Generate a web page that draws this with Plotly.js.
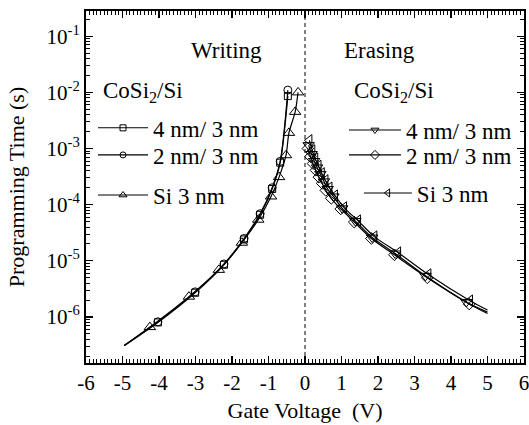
<!DOCTYPE html>
<html>
<head>
<meta charset="utf-8">
<script src="https://cdn.plot.ly/plotly-3.0.1.min.js"></script>
<style>html,body{margin:0;padding:0;background:#fff;}#chart{width:529px;height:425px;}</style>
</head>
<body>
<div id="chart"></div>
<script>
// ---- Writing (negative gate voltage) ----
const wCo4X = [-4.03, -3.01, -2.22, -1.67, -1.23, -0.90, -0.68, -0.47];
const wCo4Y = [8.0e-7, 2.7e-6, 8.5e-6, 2.4e-5, 6.6e-5, 1.9e-4, 5.6e-4, 8.6e-3];
const wCo2X = [-4.03, -3.01, -2.22, -1.67, -1.23, -0.90, -0.68, -0.47];
const wCo2Y = [8.2e-7, 2.8e-6, 8.8e-6, 2.5e-5, 6.9e-5, 2.0e-4, 5.9e-4, 1.1e-2];
const wSiX  = [-4.25, -3.18, -2.36, -1.73, -1.28, -0.93, -0.71, -0.52, -0.44, -0.27, -0.19];
const wSiY  = [6.6e-7, 2.3e-6, 6.9e-6, 2.1e-5, 5.4e-5, 1.4e-4, 3.1e-4, 7.6e-4, 1.9e-3, 4.5e-3, 1.0e-2];
// start of the fitted writing curves
const wLineStartX = -4.95;
const wLineStartY = 3.1e-7;

// ---- Erasing (positive gate voltage) ----
const eCo4X = [0.10, 0.18, 0.25, 0.33, 0.42, 0.52, 0.62, 0.78, 1.02, 1.38, 1.84, 2.47, 3.30, 4.42];
const eCo4Y = [1.15e-3, 8.0e-4, 6.0e-4, 4.6e-4, 3.5e-4, 2.6e-4, 1.9e-4, 1.4e-4, 8.6e-5, 5.1e-5, 2.6e-5, 1.35e-5, 5.4e-6, 1.85e-6];
const eCo2X = [0.08, 0.15, 0.22, 0.30, 0.38, 0.47, 0.57, 0.72, 0.98, 1.35, 1.82, 2.45, 3.35, 4.50];
const eCo2Y = [1.0e-3, 7.2e-4, 5.4e-4, 4.1e-4, 3.1e-4, 2.4e-4, 1.8e-4, 1.3e-4, 8.4e-5, 4.9e-5, 2.5e-5, 1.28e-5, 5.0e-6, 1.7e-6];
const eSiX  = [0.12, 0.20, 0.28, 0.37, 0.46, 0.56, 0.67, 0.82, 1.07, 1.45, 1.90, 2.55, 3.38, 4.52];
const eSiY  = [1.4e-3, 9.2e-4, 6.6e-4, 4.9e-4, 3.6e-4, 2.7e-4, 2.0e-4, 1.45e-4, 8.9e-5, 5.2e-5, 2.7e-5, 1.4e-5, 5.7e-6, 1.95e-6];
// end of the fitted erasing curves
const eLineEndX = 5.0;
const eCo4EndY = 1.22e-6;
const eCo2EndY = 1.15e-6;
const eSiEndY  = 1.33e-6;

// ---- Labels ----
const legendTitle = "CoSi<sub>2</sub>/Si";
const nameCo4 = "4 nm/ 3 nm";
const nameCo2 = "2 nm/ 3 nm";
const nameSi = "Si 3 nm";
const yTickVals = [1e-6, 1e-5, 1e-4, 1e-3, 1e-2, 1e-1];
const yTickText = ["10<sup>-6</sup>", "10<sup>-5</sup>", "10<sup>-4</sup>", "10<sup>-3</sup>", "10<sup>-2</sup>", "10<sup>-1</sup>"];
const xTickVals = [-6, -5, -4, -3, -2, -1, 0, 1, 2, 3, 4, 5, 6];
const xTickText = ["-6", "-5", "-4", "-3", "-2", "-1", "0", "1", "2", "3", "4", "5", "6"];

const FONT = "Liberation Serif, Times New Roman, serif";
const BLACK = "#000";

function lineTrace(x, y) {
  return {x: x, y: y, mode: "lines", type: "scatter", showlegend: false,
          line: {color: BLACK, width: 1.2, shape: "spline", smoothing: 0.8}, hoverinfo: "skip"};
}
function markTrace(x, y, sym, size, name) {
  return {x: x, y: y, mode: "markers", type: "scatter", name: name, showlegend: false,
          marker: {symbol: sym, size: size, color: BLACK, line: {color: BLACK, width: 1}}};
}
function legendTrace(sym, size, name, legend) {
  return {x: [null], y: [null], mode: "lines+markers", type: "scatter", name: name,
          legend: legend, showlegend: true,
          line: {color: BLACK, width: 1.1},
          marker: {symbol: sym, size: size, color: BLACK, line: {color: BLACK, width: 1}}};
}

const traces = [
  lineTrace([wLineStartX].concat(wCo4X), [wLineStartY].concat(wCo4Y)),
  lineTrace([wLineStartX].concat(wCo2X), [wLineStartY].concat(wCo2Y)),
  lineTrace([wLineStartX].concat(wSiX), [wLineStartY].concat(wSiY)),
  lineTrace(eCo4X.concat([eLineEndX]), eCo4Y.concat([eCo4EndY])),
  lineTrace(eCo2X.concat([eLineEndX]), eCo2Y.concat([eCo2EndY])),
  lineTrace(eSiX.concat([eLineEndX]), eSiY.concat([eSiEndY])),
  markTrace(wCo4X, wCo4Y, "square-open", 7, nameCo4),
  markTrace(wCo2X, wCo2Y, "circle-open", 8, nameCo2),
  markTrace(wSiX, wSiY, "triangle-up-open", 10, nameSi),
  markTrace(eCo4X, eCo4Y, "triangle-down-open", 10, nameCo4),
  markTrace(eCo2X, eCo2Y, "diamond-open", 9, nameCo2),
  markTrace(eSiX, eSiY, "triangle-left-open", 10, nameSi),
  legendTrace("square-open", 6, nameCo4, "legend"),
  legendTrace("circle-open", 6, nameCo2, "legend2"),
  legendTrace("triangle-up-open", 7, nameSi, "legend3"),
  legendTrace("triangle-down-open", 7, nameCo4, "legend4"),
  legendTrace("diamond-open", 7, nameCo2, "legend5"),
  legendTrace("triangle-left-open", 7, nameSi, "legend6")
];

function leg(x, y, iw) {
  return {x: x, y: y, xanchor: "left", yanchor: "middle", itemwidth: iw,
          bgcolor: "rgba(0,0,0,0)", borderwidth: 0, itemclick: false,
          font: {family: FONT, size: 23, color: BLACK}};
}

const layout = {
  width: 529, height: 425,
  margin: {l: 86, r: 5, t: 11, b: 62},
  paper_bgcolor: "#fff", plot_bgcolor: "#fff",
  font: {family: FONT, color: BLACK, size: 21},
  showlegend: true,
  xaxis: {
    range: [-6, 6], tickmode: "array", tickvals: xTickVals, ticktext: xTickText,
    ticks: "inside", ticklen: 7, tickwidth: 1.2, tickcolor: BLACK, ticklabeloverflow: "allow",
    showline: true, linewidth: 2, linecolor: BLACK, mirror: "allticks",
    showgrid: false, zeroline: false,
    tickfont: {family: FONT, size: 21, color: BLACK},
    minor: {dtick: 0.1, tick0: 0, ticks: "inside", ticklen: 4, tickwidth: 1, tickcolor: BLACK, showgrid: false},
    title: {text: "Gate Voltage  (V)", font: {family: FONT, size: 22, color: BLACK}, standoff: 8}
  },
  yaxis: {
    type: "log", range: [-6.82, -0.55], tickmode: "array", tickvals: yTickVals, ticktext: yTickText,
    ticks: "inside", ticklen: 7, tickwidth: 1.2, tickcolor: BLACK, ticklabeloverflow: "allow",
    showline: true, linewidth: 2, linecolor: BLACK, mirror: "allticks",
    showgrid: false, zeroline: false,
    tickfont: {family: FONT, size: 21, color: BLACK},
    minor: {dtick: "D1", ticks: "inside", ticklen: 4, tickwidth: 1, tickcolor: BLACK, showgrid: false},
    title: {text: "Programming Time (s)", font: {family: FONT, size: 22, color: BLACK}, standoff: 16}
  },
  legend:  leg(0.016, 0.668, 50),
  legend2: leg(0.016, 0.591, 50),
  legend3: leg(0.016, 0.477, 50),
  legend4: leg(0.589, 0.662, 52),
  legend5: leg(0.589, 0.591, 52),
  legend6: leg(0.623, 0.483, 48),
  shapes: [
    {type: "line", xref: "x", yref: "paper", x0: 0, x1: 0, y0: 0, y1: 1,
     line: {color: BLACK, width: 1, dash: "4px,3px"}}
  ],
  annotations: [
    {text: "Writing", xref: "paper", yref: "paper", x: 0.32, y: 0.889, showarrow: false,
     xanchor: "center", yanchor: "middle", font: {family: FONT, size: 23, color: BLACK}},
    {text: "Erasing", xref: "paper", yref: "paper", x: 0.671, y: 0.889, showarrow: false,
     xanchor: "center", yanchor: "middle", font: {family: FONT, size: 23, color: BLACK}},
    {text: legendTitle, xref: "paper", yref: "paper", x: 0.034, y: 0.770, showarrow: false,
     xanchor: "left", yanchor: "middle", font: {family: FONT, size: 23, color: BLACK}},
    {text: legendTitle, xref: "paper", yref: "paper", x: 0.607, y: 0.770, showarrow: false,
     xanchor: "left", yanchor: "middle", font: {family: FONT, size: 23, color: BLACK}}
  ]
};

Plotly.newPlot("chart", traces, layout, {displayModeBar: false, staticPlot: true});
</script>
</body>
</html>
